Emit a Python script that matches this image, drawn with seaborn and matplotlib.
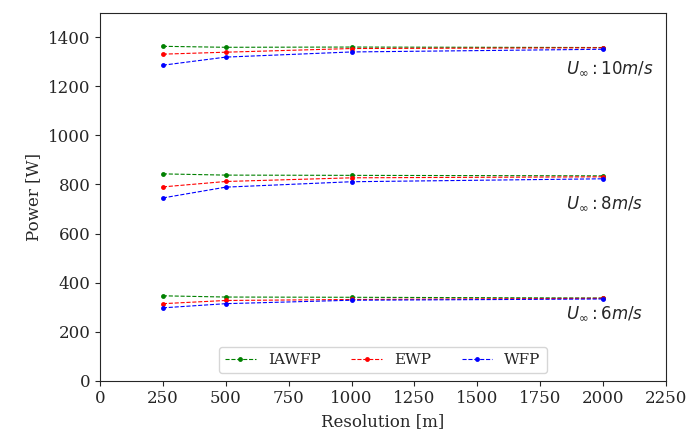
import numpy as np
import pandas as pd
import matplotlib
matplotlib.use("Agg")
import matplotlib.pyplot as plt
import seaborn as sns

resolution = [250, 500, 1000, 2000]
methods = ["IAWFP", "EWP", "WFP"]
colors = ["green", "red", "blue"]

# 10 m/s
iawfp_10 = [1363, 1359, 1360, 1358]
ewp_10 = [1331, 1339, 1354, 1357]
wfp_10 = [1286, 1319, 1340, 1351]
# 8 m/s
iawfp_8 = [843, 838, 837, 835]
ewp_8 = [790, 812, 827, 831]
wfp_8 = [745, 789, 811, 823]
# 6 m/s
iawfp_6 = [346, 341, 340, 337]
ewp_6 = [314, 327, 331, 336]
wfp_6 = [297, 314, 328, 333]

speeds = ["10", "8", "6"]
label_y = [1273, 723, 276]

series = {
    "10": [iawfp_10, ewp_10, wfp_10],
    "8": [iawfp_8, ewp_8, wfp_8],
    "6": [iawfp_6, ewp_6, wfp_6],
}

sns.set_style("ticks")
plt.rcParams["font.family"] = ["DejaVu Serif"]
plt.rcParams["mathtext.fontset"] = "dejavusans"

fig = plt.figure(figsize=(6.89, 4.34), dpi=100)
ax = fig.add_axes([100/689, 1 - 380.7/434, 566/689, 368/434])

for sp in speeds:
    rows = []
    for m, vals in zip(methods, series[sp]):
        for r, v in zip(resolution, vals):
            rows.append({"Resolution": r, "Power": v, "Method": m})
    df = pd.DataFrame(rows)
    sns.lineplot(data=df, x="Resolution", y="Power", hue="Method",
                 hue_order=methods, palette=colors, ax=ax,
                 linestyle="--", marker="o", markersize=3.5,
                 markeredgewidth=0, linewidth=0.8,
                 legend=(sp == "10"))

for sp, yy in zip(speeds, label_y):
    ax.text(1852, yy, r"$U_{\infty}: %s m/s$" % sp, ha="left", va="center",
            fontsize=12)

ax.set_xlim(0, 2250)
ax.set_ylim(0, 1500)
ax.set_xticks(np.arange(0, 2251, 250))
ax.set_yticks(np.arange(0, 1401, 200))
ax.set_xlabel("Resolution [m]", fontsize=12)
ax.set_ylabel("Power [W]", fontsize=12)
ax.tick_params(labelsize=12)

handles, labels = ax.get_legend_handles_labels()
ax.legend(handles, labels, loc="lower center", ncol=3, fontsize=11,
          frameon=True, columnspacing=2.0, bbox_to_anchor=(0.5, 0.0))

fig.savefig("out.png", dpi=100)
